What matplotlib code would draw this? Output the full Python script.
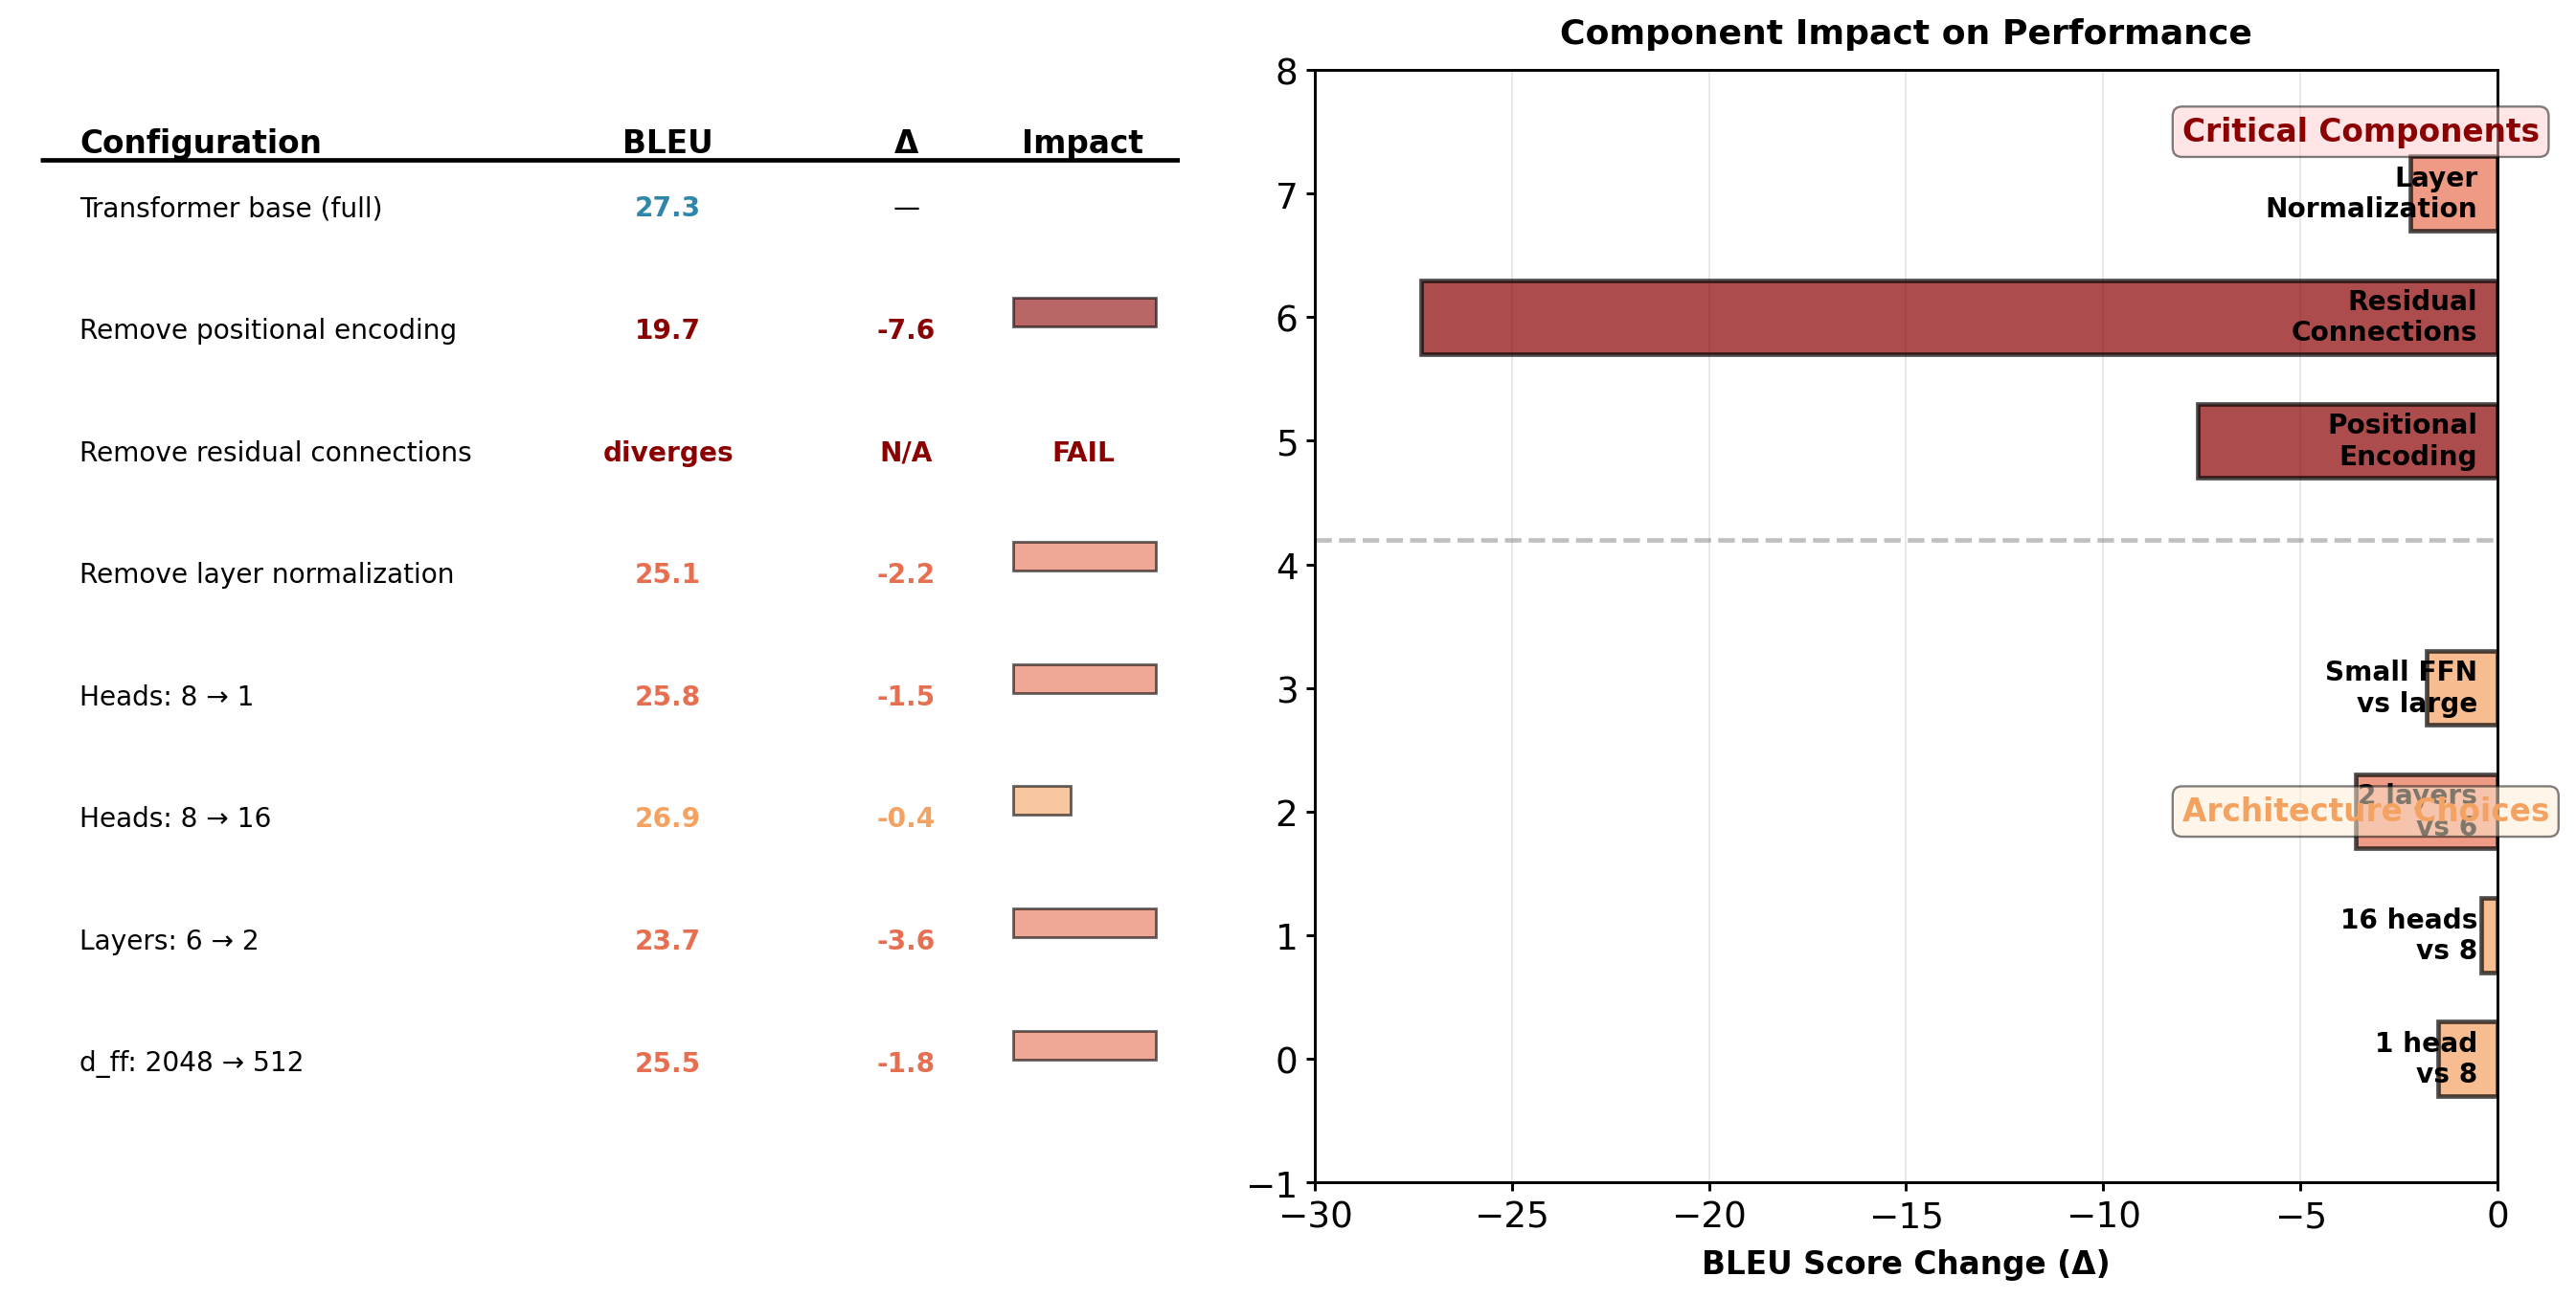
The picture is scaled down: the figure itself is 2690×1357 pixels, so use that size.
import matplotlib
matplotlib.use("Agg")
import matplotlib.pyplot as plt

# ---- table data (left panel) ----
configs = ["Transformer base (full)", "Remove positional encoding", "Remove residual connections",
           "Remove layer normalization", "Heads: 8 → 1", "Heads: 8 → 16", "Layers: 6 → 2",
           "d_ff: 2048 → 512"]
bleu = [27.3, 19.7, None, 25.1, 25.8, 26.9, 23.7, 25.5]
delta = [None, -7.6, None, -2.2, -1.5, -0.4, -3.6, -1.8]
headers = ["Configuration", "BLEU", "Δ", "Impact"]

# ---- bar data (right panel) ----
arch_labels = ["1 head\nvs 8", "16 heads\nvs 8", "2 layers\nvs 6", "Small FFN\nvs large"]
arch_pos = [0, 1, 2, 3]
arch_delta = [-1.5, -0.4, -3.6, -1.8]
crit_labels = ["Positional\nEncoding", "Residual\nConnections", "Layer\nNormalization"]
crit_pos = [5, 6, 7]
crit_delta = [-7.6, -27.3, -2.2]

DARK = "#8B0000"
SALMON = "#E76F51"
ORANGE = "#F4A261"
BLUE = "#2E86AB"


def table_color(d):
    if abs(d) > 5:
        return DARK
    if abs(d) > 1:
        return SALMON
    return ORANGE


def bar_color(d):
    if abs(d) > 5:
        return DARK
    if abs(d) > 2:
        return SALMON
    return ORANGE


plt.rcParams["axes.linewidth"] = 1.25

fig = plt.figure(figsize=(16, 8.077), dpi=168.125)

# ---------------- left: table ----------------
ax1 = fig.add_axes([0.0156, 0, 0.4424, 1])
ax1.set_xlim(0, 1)
ax1.set_ylim(8.93, -1.712)
ax1.axis("off")

col_x = [0.0345, 0.551, 0.76, 0.915]
col_ha = ["left", "center", "center", "center"]
for h, x, ha in zip(headers, col_x, col_ha):
    ax1.text(x, -0.53, h, ha=ha, va="center", fontsize=14, fontweight="bold")
ax1.plot([0, 1], [-0.395, -0.395], color="black", linewidth=2, solid_capstyle="butt")

for i, name in enumerate(configs):
    ax1.text(col_x[0], i, name, ha="left", va="center", fontsize=12)
    d = delta[i]
    if bleu[i] is None:
        ax1.text(col_x[1], i, "diverges", ha="center", va="center", fontsize=12,
                 fontweight="bold", color=DARK)
        ax1.text(col_x[2], i, "N/A", ha="center", va="center", fontsize=12,
                 fontweight="bold", color=DARK)
        ax1.text(col_x[3], i, "FAIL", ha="center", va="center", fontsize=12,
                 fontweight="bold", color=DARK)
        continue
    if d is None:
        ax1.text(col_x[1], i, f"{bleu[i]:.1f}", ha="center", va="center", fontsize=12,
                 fontweight="bold", color=BLUE)
        ax1.text(col_x[2], i, "—", ha="center", va="center", fontsize=12)
        continue
    c = table_color(d)
    ax1.text(col_x[1], i, f"{bleu[i]:.1f}", ha="center", va="center", fontsize=12,
             fontweight="bold", color=c)
    ax1.text(col_x[2], i, f"{d:.1f}", ha="center", va="center", fontsize=12,
             fontweight="bold", color=c)
    ax1.barh(i - 0.15, min(abs(d), 1.0) * 0.125, left=0.854, height=0.235,
             color=c, alpha=0.6, edgecolor="black", linewidth=1.2)

# ---------------- right: bar chart ----------------
ax2 = fig.add_axes([0.5104, 0.0898, 0.4591, 0.8557])

ax2.barh(crit_pos, crit_delta, height=0.6, color=[bar_color(d) for d in crit_delta],
         alpha=0.7, edgecolor="black", linewidth=2)
ax2.barh(arch_pos, arch_delta, height=0.6, color=[bar_color(d) for d in arch_delta],
         alpha=0.7, edgecolor="black", linewidth=2)

for y, lab in zip(crit_pos + arch_pos, crit_labels + arch_labels):
    ax2.text(-0.5, y, lab, ha="right", va="center", fontsize=12, fontweight="bold")

ax2.axhline(4.2, color="gray", linestyle="--", linewidth=2, alpha=0.5)
ax2.axvline(0, color="black", linewidth=1.2)

ax2.text(-8, 7.5, "Critical Components", ha="left", va="center", fontsize=14,
         fontweight="bold", color=DARK,
         bbox=dict(boxstyle="round", facecolor="#FFCCCC", alpha=0.5))
ax2.text(-8, 2, "Architecture Choices", ha="left", va="center", fontsize=14,
         fontweight="bold", color=ORANGE,
         bbox=dict(boxstyle="round", facecolor="#FFEFD5", alpha=0.5))

ax2.set_xlim(-30, 0)
ax2.set_ylim(-1, 8)
ax2.set_yticks(range(-1, 9))
ax2.tick_params(labelsize=16, width=1.25, length=4)
ax2.set_xlabel("BLEU Score Change (Δ)", fontsize=14, fontweight="bold", labelpad=6)
ax2.set_title("Component Impact on Performance", fontsize=15.5, fontweight="bold", pad=12)
ax2.grid(True, axis="x", alpha=0.3)
ax2.set_axisbelow(True)

fig.savefig("out.png", dpi=168.125)
